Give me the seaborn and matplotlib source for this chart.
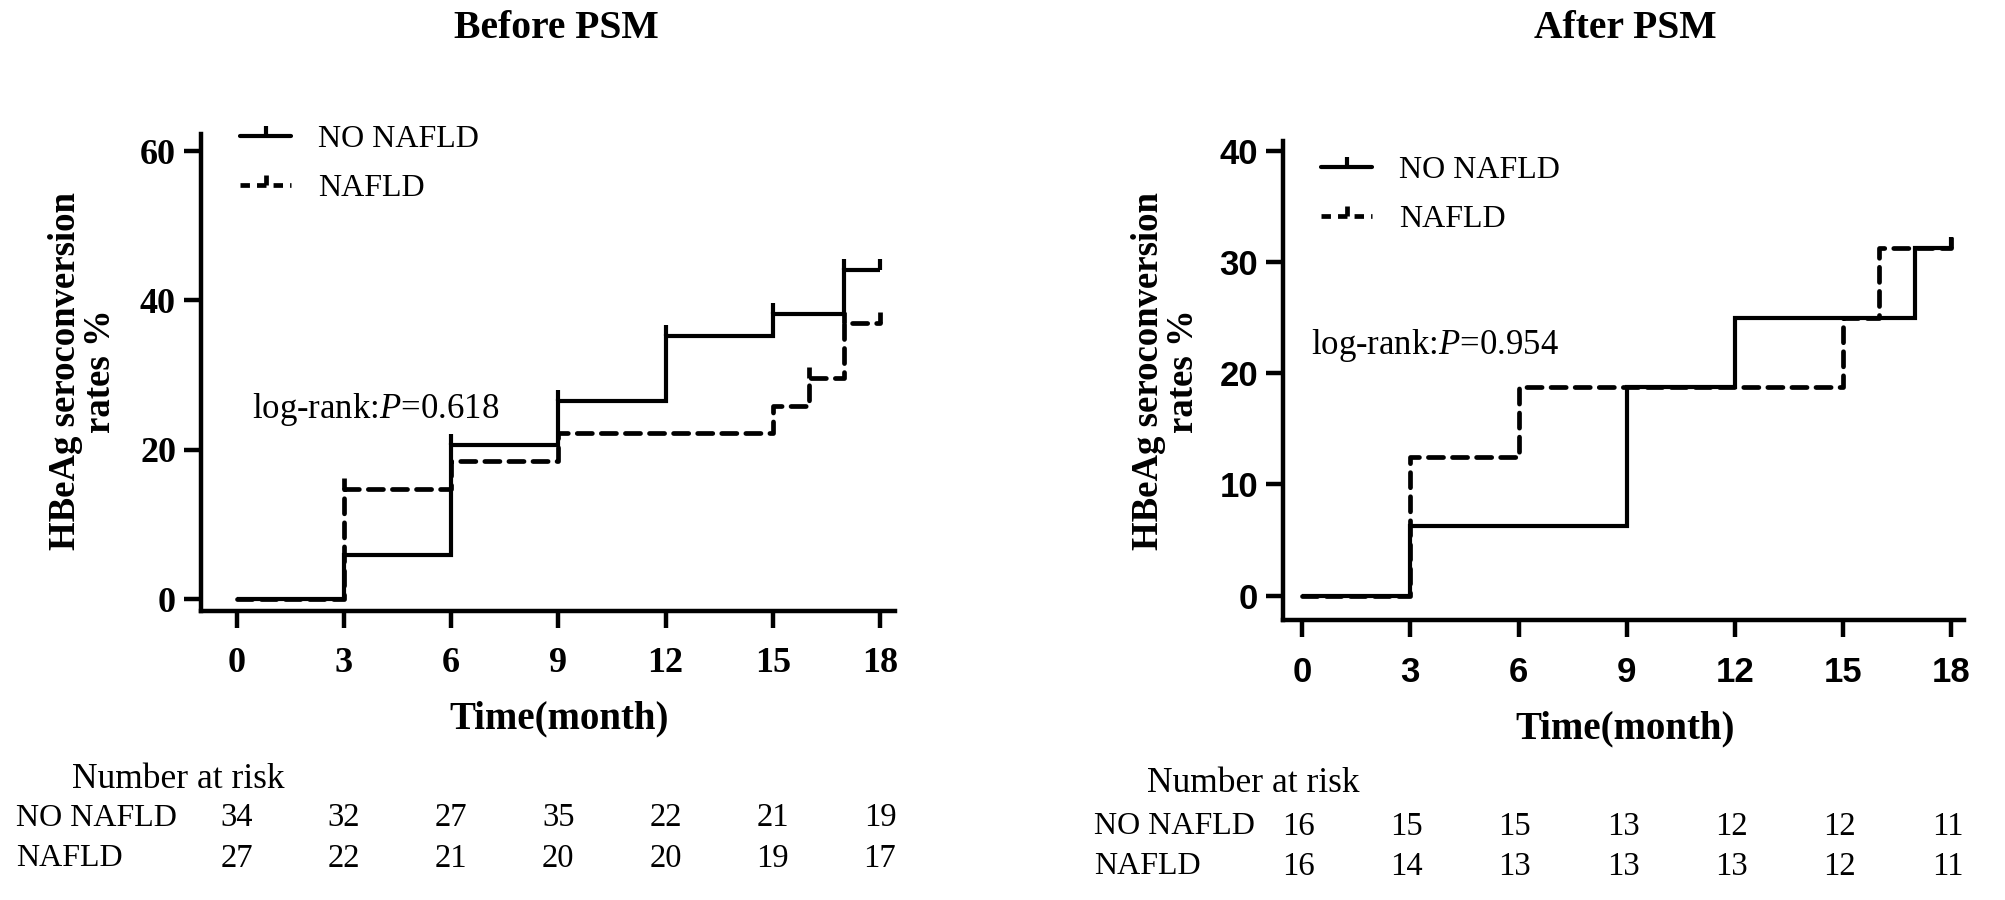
import matplotlib
matplotlib.use('Agg')
import matplotlib.pyplot as plt
import matplotlib.transforms as mtransforms
from matplotlib.path import Path
from matplotlib.lines import Line2D
import seaborn as sns
import numpy as np
import pandas as pd

sns.set_theme(style='white')
plt.rcParams['font.family'] = ['Liberation Serif', 'DejaVu Serif']
plt.rcParams['mathtext.fontset'] = 'custom'
plt.rcParams['mathtext.rm'] = 'Liberation Serif'
plt.rcParams['mathtext.it'] = 'Liberation Serif:italic'
plt.rcParams['text.color'] = 'black'
plt.rcParams['axes.labelcolor'] = 'black'
plt.rcParams['xtick.color'] = 'black'
plt.rcParams['ytick.color'] = 'black'

# ---------------- data ----------------
groups = ['NO NAFLD', 'NAFLD']
x_ticks = [0, 3, 6, 9, 12, 15, 18]

before_time_no = [0, 3, 6, 9, 12, 15, 17, 18]
before_rate_no = [0, 5.9, 20.6, 26.5, 35.3, 38.2, 44.1, 44.1]
before_time_na = [0, 3, 6, 9, 15, 16, 17, 18]
before_rate_na = [0, 14.8, 18.5, 22.2, 25.9, 29.6, 37.0, 37.0]
before_cens_no = [6, 9, 12, 15, 17, 18]
before_cens_na = [3, 16, 17, 18]
before_yticks = [0, 20, 40, 60]
before_risk_no = [34, 32, 27, 35, 22, 21, 19]
before_risk_na = [27, 22, 21, 20, 20, 19, 17]
before_p = '0.618'

after_time_no = [0, 3, 9, 12, 17, 18]
after_rate_no = [0, 6.25, 18.75, 25.0, 31.25, 31.25]
after_time_na = [0, 3, 6, 15, 16, 18]
after_rate_na = [0, 12.5, 18.75, 25.0, 31.25, 31.25]
after_cens_no = [18]
after_cens_na = [18]
after_yticks = [0, 10, 20, 30, 40]
after_risk_no = [16, 15, 15, 13, 12, 12, 11]
after_risk_na = [16, 14, 13, 13, 13, 12, 11]
after_p = '0.954'

W, H = 2006, 900
fig = plt.figure(figsize=(W / 100, H / 100), dpi=100)

def fx(px):
    return px / W

def fy(py):
    return 1 - py / H

tick_marker = Path([(0, 0), (0, 1)], [Path.MOVETO, Path.LINETO])
SOLID_LW = 3.0
DASH_LW = 3.4
DASHES = (3.2, 1.9)


def step_value(times, rates, t):
    i = np.searchsorted(times, t, side='right') - 1
    return rates[i]


def draw_panel(rect, t_no, r_no, t_na, r_na, c_no, c_na, yticks, xlim, ylim,
               tick_font, tick_size):
    ax = fig.add_axes(rect)
    df_no = pd.DataFrame({'time': t_no, 'rate': r_no})
    df_na = pd.DataFrame({'time': t_na, 'rate': r_na})
    sns.lineplot(data=df_no, x='time', y='rate', ax=ax, color='black',
                 lw=SOLID_LW, drawstyle='steps-post', estimator=None,
                 solid_capstyle='butt', solid_joinstyle='miter')
    sns.lineplot(data=df_na, x='time', y='rate', ax=ax, color='black',
                 lw=DASH_LW, drawstyle='steps-post', estimator=None,
                 dashes=False)
    ax.lines[-1].set_linestyle((0, DASHES))
    ax.lines[-1].set_dash_capstyle('round')
    # censor ticks
    cy_no = [step_value(t_no, r_no, t) for t in c_no]
    cy_na = [step_value(t_na, r_na, t) for t in c_na]
    ax.plot(c_no, cy_no, ls='none', marker=tick_marker, ms=16, mew=SOLID_LW,
            color='black')
    ax.plot(c_na, cy_na, ls='none', marker=tick_marker, ms=16, mew=DASH_LW,
            color='black')
    ax.set_xlim(*xlim)
    ax.set_ylim(*ylim)
    ax.set_xticks(x_ticks)
    ax.set_yticks(yticks)
    ax.set_xlabel('')
    ax.set_ylabel('')
    for s in ['top', 'right']:
        ax.spines[s].set_visible(False)
    for s in ['left', 'bottom']:
        ax.spines[s].set_linewidth(3.2)
        ax.spines[s].set_color('black')
    ax.tick_params(axis='both', direction='out', length=12, width=3.2,
                   color='black', pad=6, left=True, bottom=True)
    for lab in ax.get_xticklabels() + ax.get_yticklabels():
        lab.set_fontfamily(tick_font)
        lab.set_fontweight('bold')
        lab.set_fontsize(tick_size)
        lab.set_color('black')
    ax.tick_params(axis='x', pad=14)
    ax.set_facecolor('white')
    return ax


# left panel
axL = draw_panel([fx(201), fy(611), fx(895 - 201), (611 - 134) / H],
                 before_time_no, before_rate_no, before_time_na, before_rate_na,
                 before_cens_no, before_cens_na, before_yticks,
                 (-1.0, 18.42), (-1.6, 62.3), 'Liberation Serif', 26)
# right panel
axR = draw_panel([fx(1283), fy(620), fx(1964 - 1283), (620 - 141) / H],
                 after_time_no, after_rate_no, after_time_na, after_rate_na,
                 after_cens_no, after_cens_na, after_yticks,
                 (-0.53, 18.35), (-2.2, 40.9), 'Liberation Sans', 25)

# legends
def legend_handles():
    h1 = Line2D([], [], color='black', lw=SOLID_LW, ls='-',
                marker=tick_marker, ms=14, mew=SOLID_LW)
    h2 = Line2D([], [], color='black', lw=DASH_LW, ls=(0, (2.0, 1.5)),
                marker=tick_marker, ms=14, mew=DASH_LW)
    return [h1, h2]

for ax, (lx, ly) in [(axL, (240, 125)), (axR, (1321, 156))]:
    leg = ax.legend(legend_handles(), groups, loc='upper left',
                    bbox_to_anchor=(fx(lx), fy(ly)),
                    bbox_transform=fig.transFigure,
                    frameon=False, fontsize=23, handlelength=1.6,
                    handletextpad=0.85, labelspacing=0.6, borderpad=0,
                    borderaxespad=0)
    for t in leg.get_texts():
        t.set_color('black')

# titles
fig.text(fx(556), fy(29), 'Before PSM', ha='center', va='center',
         fontsize=28.5, fontweight='bold')
fig.text(fx(1625), fy(29), 'After PSM', ha='center', va='center',
         fontsize=28.5, fontweight='bold')

# x labels
fig.text(fx(559), fy(719), 'Time(month)', ha='center', va='center',
         fontsize=28, fontweight='bold')
fig.text(fx(1625), fy(729), 'Time(month)', ha='center', va='center',
         fontsize=28, fontweight='bold')

# y labels
for px in (83, 1166):
    fig.text(fx(px), fy(371), 'HBeAg seroconversion\nrates %', ha='center',
             va='center', rotation=90, fontsize=26.5, fontweight='bold',
             linespacing=1.0)

# log-rank
axL.text(fx(252), fy(410), 'log-rank:$\\mathit{P}$=' + before_p,
         transform=fig.transFigure, ha='left', va='center', fontsize=25)
axR.text(fx(1311), fy(345), 'log-rank:$\\mathit{P}$=' + after_p,
         transform=fig.transFigure, ha='left', va='center', fontsize=25)

# number at risk tables
def risk_table(ax, title_xy, label_x, row_y, risk_no, risk_na, dx=0.0):
    fig.text(fx(title_xy[0]), fy(title_xy[1]), 'Number at risk', ha='left',
             va='center', fontsize=25.5)
    for name, y in zip(groups, row_y):
        fig.text(fx(label_x), fy(y), name, ha='left', va='center', fontsize=23)
    trans = mtransforms.blended_transform_factory(ax.transData, fig.transFigure)
    for vals, y in zip([risk_no, risk_na], row_y):
        for t, v in zip(x_ticks, vals):
            fig.text(t + dx, fy(y), str(v), transform=trans, ha='center',
                     va='center', fontsize=23.5)

risk_table(axL, (72, 779), 16, (818, 859), before_risk_no, before_risk_na)
risk_table(axR, (1147, 784), 1094, (827, 867), after_risk_no, after_risk_na,
           dx=-0.1)

fig.savefig('out.png', dpi=100, facecolor='white')
